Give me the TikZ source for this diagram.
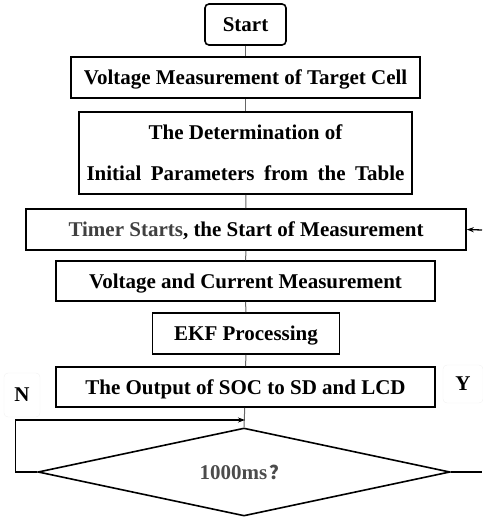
\documentclass[tikz,border=0pt]{standalone}
\usepackage{fontspec}
\setmainfont{Liberation Serif}
\newfontfamily\cjk{Noto Sans CJK SC}
\usetikzlibrary{shapes.geometric,arrows.meta}
\begin{document}
\begin{tikzpicture}[x=1pt,y=-1pt,
  box/.style={draw=black,line width=1.6pt,inner sep=0pt,text depth=0pt,font=\fontsize{21}{24}\selectfont\bfseries},
  link/.style={draw=black!60,line width=1pt},
  loopline/.style={draw=black,line width=1.3pt},
  tip/.style={-{Stealth[length=7pt,width=5pt]}},
  lbl/.style={draw=black!6,rounded corners=4pt,inner sep=0pt,font=\fontsize{21}{24}\selectfont\bfseries}]
\useasboundingbox (0,0) rectangle (482,518);
\node[box,rounded corners=4pt,minimum width=81pt,minimum height=41pt] (start) at (245.5,24.5) {Start};
\node[box,minimum width=349pt,minimum height=41pt] (vm) at (245.5,77.5) {Voltage Measurement of Target Cell};
\node[box,minimum width=333pt,minimum height=82pt,align=center,font=\fontsize{21}{41}\selectfont\bfseries] (det) at (245.5,153) {The Determination of\\\hbox to 318pt{Initial\hfill Parameters\hfill from\hfill the\hfill Table}};
\node[box,minimum width=440pt,minimum height=41pt] (timer) at (246,229.5) {\textcolor{black!75}{Timer Starts}, the Start of Measurement};
\node[box,minimum width=379pt,minimum height=40pt] (vc) at (245.5,281) {Voltage and Current Measurement};
\node[box,minimum width=187pt,minimum height=41pt] (ekf) at (246,333.5) {EKF Processing};
\node[box,minimum width=379pt,minimum height=40pt] (out) at (245.5,387) {The Output of SOC to SD and LCD};
\node[draw=black,line width=1.6pt,diamond,aspect=4.68,minimum width=412pt,minimum height=88pt,inner sep=0pt,text=black!70,font=\fontsize{21}{24}\selectfont\bfseries] (dec) at (244,472) {1000ms\kern2pt{\cjk\fontsize{19}{20}\selectfont ？}};
\node[lbl,minimum width=36pt,minimum height=44pt] (nl) at (22,395) {N};
\node[lbl,minimum width=40pt,minimum height=38pt] (yl) at (463,384) {Y};
\draw[link] (start) -- (vm);
\draw[link] (vm) -- (det);
\draw[link] (det) -- (timer);
\draw[link] (timer) -- (vc);
\draw[link] (vc) -- (ekf);
\draw[link] (ekf) -- (out);
\draw[link] (out) -- (dec.north);
\coordinate (nj) at (245,420);
\draw[loopline,tip] (dec.west) -- ++(-22,0) |- (nj);
\coordinate (redge) at (482,472);
\draw[loopline] (dec.east) -- (redge);
\coordinate (tin) at (482,230);
\draw[loopline,tip] (tin) -- (timer.east);
\end{tikzpicture}
\end{document}
